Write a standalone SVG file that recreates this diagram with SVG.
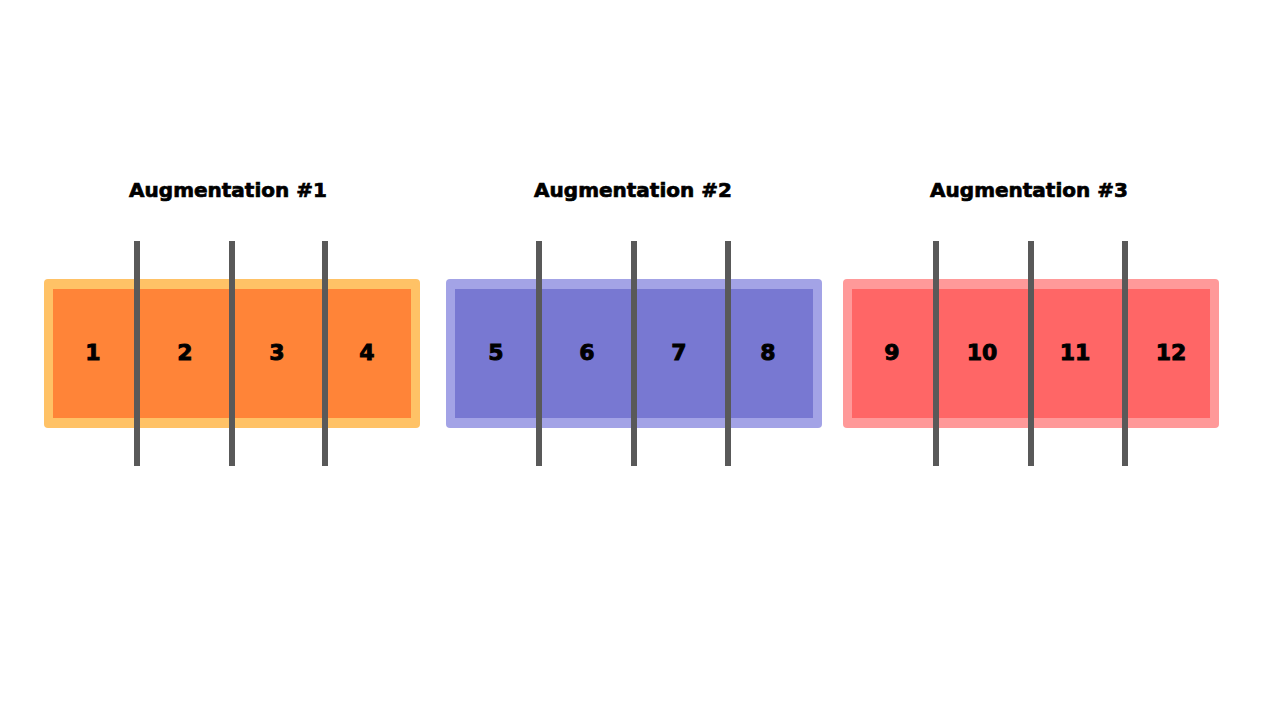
<svg xmlns="http://www.w3.org/2000/svg" width="1269" height="707" viewBox="0 0 1269 707">
<style>
.title{font-family:"DejaVu Sans","Liberation Sans",sans-serif;font-weight:bold;font-size:20px;fill:#000;stroke:#000;stroke-width:0.7;text-anchor:middle;dominant-baseline:central}
.num{font-family:"DejaVu Sans","Liberation Sans",sans-serif;font-weight:bold;font-size:22px;fill:#000;stroke:#000;stroke-width:0.9;text-anchor:middle;dominant-baseline:central}
.cut{stroke:#595959;stroke-width:6;fill:none}
</style>
<rect width="1269" height="707" fill="#fff"/>
<g id="aug1">
<text class="title" x="228" y="190">Augmentation #1</text>
<rect x="44" y="279" width="376" height="149" rx="4" fill="#FFC266"/>
<rect x="53" y="289" width="358" height="129" fill="#FF8438"/>
<text class="num" x="93" y="352">1</text>
<text class="num" x="185" y="352">2</text>
<text class="num" x="277" y="352">3</text>
<text class="num" x="367" y="352">4</text>
</g>
<g id="aug2">
<text class="title" x="633" y="190">Augmentation #2</text>
<rect x="446" y="279" width="376" height="149" rx="4" fill="#A3A3E6"/>
<rect x="455" y="289" width="358" height="129" fill="#7878D2"/>
<text class="num" x="496" y="352">5</text>
<text class="num" x="587" y="352">6</text>
<text class="num" x="679" y="352">7</text>
<text class="num" x="768" y="352">8</text>
</g>
<g id="aug3">
<text class="title" x="1029" y="190">Augmentation #3</text>
<rect x="843" y="279" width="376" height="149" rx="4" fill="#FF9999"/>
<rect x="852" y="289" width="358" height="129" fill="#FF6666"/>
<text class="num" x="892" y="352">9</text>
<text class="num" x="982" y="352">10</text>
<text class="num" x="1075" y="352">11</text>
<text class="num" x="1171" y="352">12</text>
</g>
<g id="cuts">
<line class="cut" x1="137" y1="241" x2="137" y2="466"/>
<line class="cut" x1="232" y1="241" x2="232" y2="466"/>
<line class="cut" x1="325" y1="241" x2="325" y2="466"/>
<line class="cut" x1="539" y1="241" x2="539" y2="466"/>
<line class="cut" x1="634" y1="241" x2="634" y2="466"/>
<line class="cut" x1="728" y1="241" x2="728" y2="466"/>
<line class="cut" x1="936" y1="241" x2="936" y2="466"/>
<line class="cut" x1="1031" y1="241" x2="1031" y2="466"/>
<line class="cut" x1="1125" y1="241" x2="1125" y2="466"/>
</g>
</svg>
